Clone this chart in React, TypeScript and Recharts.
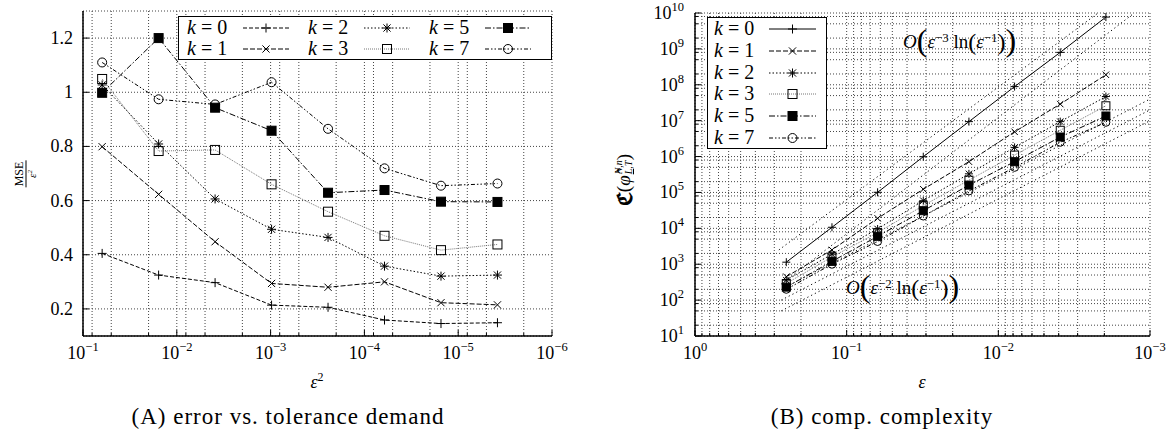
import React from "react";
import { LineChart, Line, XAxis, YAxis, CartesianGrid } from "recharts";

const FONT = "'Liberation Serif', 'DejaVu Serif', serif";

// x values: epsilon^2 for panel A, epsilon for panel B
const epsSq = [0.0625, 0.015625, 0.00390625, 0.0009765625, 0.000244140625, 0.00006103515625, 0.0000152587890625, 0.000003814697265625];
const eps = [0.25, 0.125, 0.0625, 0.03125, 0.015625, 0.0078125, 0.00390625, 0.001953125];

// panel A: MSE / eps^2
const mseK0 = [0.405, 0.325, 0.297, 0.214, 0.206, 0.159, 0.146, 0.149];
const mseK1 = [0.799, 0.623, 0.448, 0.294, 0.28, 0.3, 0.223, 0.215];
const mseK2 = [1.027, 0.809, 0.606, 0.494, 0.464, 0.358, 0.321, 0.325];
const mseK3 = [1.049, 0.783, 0.787, 0.66, 0.559, 0.47, 0.417, 0.438];
const mseK5 = [0.998, 1.2, 0.943, 0.858, 0.629, 0.639, 0.596, 0.595];
const mseK7 = [1.11, 0.974, 0.955, 1.037, 0.865, 0.719, 0.655, 0.663];

// panel B: computational cost
const costK0 = [1.14e3, 1.07e4, 1.01e5, 9.9e5, 9.4e6, 8.9e7, 8.0e8, 7.7e9];
const costK1 = [4.5e2, 2.5e3, 1.9e4, 1.23e5, 7.2e5, 4.9e6, 2.9e7, 1.9e8];
const costK2 = [3.6e2, 1.9e3, 9.6e3, 5.9e4, 3.3e5, 1.8e6, 9.4e6, 4.7e7];
const costK3 = [2.9e2, 1.6e3, 7.6e3, 4.3e4, 2.2e5, 1.1e6, 5.4e6, 2.6e7];
const costK5 = [2.3e2, 1.2e3, 6.0e3, 3.1e4, 1.6e5, 7.2e5, 3.5e6, 1.35e7];
const costK7 = [2.0e2, 1.0e3, 4.3e3, 2.2e4, 1.1e5, 5.0e5, 2.5e6, 9.0e6];

// dotted reference slopes in panel B, [eps, cost] end points
const refSteepHi = [[0.28, 2.5e3], [0.0022, 1e10]];
const refSteepLo = [[0.27, 2.8e2], [0.00127, 1e10]];
const refFlatHi = [[0.27, 2e2], [0.001, 4e7]];
const refFlatMid = [[0.27, 1e2], [0.001, 2e7]];
const refFlatLo = [[0.27, 5e1], [0.001, 1e7]];

// ticks
const decadesA = [1e-1, 1e-2, 1e-3, 1e-4, 1e-5, 1e-6];
const minorMultA = [2, 5, 8];
const yTicksA = [0.2, 0.4, 0.6, 0.8, 1, 1.2];
const decadesBx = [1, 1e-1, 1e-2, 1e-3];
const minorMultBx = [2, 3, 4, 5, 6, 7, 8, 9];
const decadesBy = [1e1, 1e2, 1e3, 1e4, 1e5, 1e6, 1e7, 1e8, 1e9, 1e10];
const minorMultBy = [2, 5, 8];

function logTicks(decades: number[], mults: number[]) {
  const out = [...decades];
  const lo = Math.min(...decades);
  const hi = Math.max(...decades);
  for (const d of decades) {
    if (d >= hi) continue;
    for (const m of mults) if (d * m < hi && d * m >= lo) out.push(d * m);
  }
  return out.sort((a, b) => a - b);
}

const ticksAx = logTicks(decadesA, minorMultA);
const ticksBx = logTicks(decadesBx, minorMultBx);
const ticksBy = logTicks(decadesBy, minorMultBy);

const toRows = (xs: number[], ys: number[]) => xs.map((x, i) => ({ x, y: ys[i] }));
const pairRows = (pts: number[][]) => pts.map(([x, y]) => ({ x, y }));

type Shape = "plus" | "cross" | "star" | "square" | "fsquare" | "circle";

const seriesA = [
  { id: "a0", k: "0", ys: mseK0, shape: "plus" as Shape, dash: "4 2", color: "#000" },
  { id: "a1", k: "1", ys: mseK1, shape: "cross" as Shape, dash: "5 2", color: "#000" },
  { id: "a2", k: "2", ys: mseK2, shape: "star" as Shape, dash: "1.5 2", color: "#000" },
  { id: "a3", k: "3", ys: mseK3, shape: "square" as Shape, dash: "1 1", color: "#777" },
  { id: "a5", k: "5", ys: mseK5, shape: "fsquare" as Shape, dash: "6 2 1.5 2", color: "#000" },
  { id: "a7", k: "7", ys: mseK7, shape: "circle" as Shape, dash: "4 2 1.5 2 1.5 2", color: "#000" },
];

const seriesB = [
  { id: "b0", k: "0", ys: costK0, shape: "plus" as Shape, dash: "", color: "#000" },
  { id: "b1", k: "1", ys: costK1, shape: "cross" as Shape, dash: "5 2", color: "#000" },
  { id: "b2", k: "2", ys: costK2, shape: "star" as Shape, dash: "1.5 2", color: "#000" },
  { id: "b3", k: "3", ys: costK3, shape: "square" as Shape, dash: "1 1", color: "#777" },
  { id: "b5", k: "5", ys: costK5, shape: "fsquare" as Shape, dash: "6 2 1.5 2", color: "#000" },
  { id: "b7", k: "7", ys: costK7, shape: "circle" as Shape, dash: "4 2 1.5 2 1.5 2", color: "#000" },
];

const refLines = [refSteepHi, refSteepLo, refFlatHi, refFlatMid, refFlatLo];

function Marker({ shape, cx, cy, s = 4.5 }: { shape: Shape; cx: number; cy: number; s?: number }) {
  const st = { stroke: "#000", strokeWidth: 1, fill: "none" };
  const r = s * 0.8;
  switch (shape) {
    case "plus":
      return <path d={`M${cx - s},${cy}H${cx + s}M${cx},${cy - s}V${cy + s}`} {...st} />;
    case "cross":
      return <path d={`M${cx - r},${cy - r}L${cx + r},${cy + r}M${cx - r},${cy + r}L${cx + r},${cy - r}`} {...st} />;
    case "star":
      return (
        <path
          d={`M${cx - s},${cy}H${cx + s}M${cx},${cy - s}V${cy + s}M${cx - r},${cy - r}L${cx + r},${cy + r}M${cx - r},${cy + r}L${cx + r},${cy - r}`}
          {...st}
        />
      );
    case "square":
      return <rect x={cx - s} y={cy - s} width={2 * s} height={2 * s} {...st} />;
    case "fsquare":
      return <rect x={cx - s} y={cy - s} width={2 * s} height={2 * s} stroke="#000" fill="#000" />;
    default:
      return <circle cx={cx} cy={cy} r={s} {...st} />;
  }
}

const isDecade = (v: number) => Math.abs(Math.log10(v) - Math.round(Math.log10(v))) < 1e-6;
const expOf = (v: number) => {
  const e = Math.round(Math.log10(v));
  return e < 0 ? `\u2212${-e}` : `${e}`;
};

type Side = "bottom" | "top" | "left" | "right";

function makeTick(side: Side, isMajor: (v: number) => boolean, label?: (v: number, x: number, y: number) => React.ReactNode) {
  return (props: any) => {
    const { x, y, payload } = props;
    const v = payload.value;
    const major = isMajor(v);
    const len = major ? 6 : 3;
    let mark;
    if (side === "bottom") mark = <line x1={x} x2={x} y1={y} y2={y - len} stroke="#000" />;
    else if (side === "top") mark = <line x1={x} x2={x} y1={y} y2={y + len} stroke="#000" />;
    else if (side === "left") mark = <line x1={x} x2={x + len} y1={y} y2={y} stroke="#000" />;
    else mark = <line x1={x} x2={x - len} y1={y} y2={y} stroke="#000" />;
    return (
      <g>
        {mark}
        {label && major ? label(v, x, y) : null}
      </g>
    );
  };
}

const powBottom = (v: number, x: number, y: number) => (
  <text x={x} y={y + 23} textAnchor="middle" fontSize={18} fontFamily={FONT} fill="#000">
    10<tspan dy={-8} fontSize={12.5}>{expOf(v)}</tspan>
  </text>
);
const powLeft = (v: number, x: number, y: number) => (
  <text x={x - 11} y={y + 6} textAnchor="end" fontSize={18} fontFamily={FONT} fill="#000">
    10<tspan dy={-8} fontSize={12.5}>{expOf(v)}</tspan>
  </text>
);
const decLeft = (v: number, x: number, y: number) => (
  <text x={x - 10} y={y + 6} textAnchor="end" fontSize={18} fontFamily={FONT} fill="#000">
    {v === 1 ? "1" : v.toFixed(1)}
  </text>
);

const frame = { stroke: "#000", strokeWidth: 1.5 };

function dotFor(id: string, shape: Shape, s: number) {
  return (p: any) => <Marker key={`${id}-${p.index}`} shape={shape} cx={p.cx} cy={p.cy} s={s} />;
}

function Sample({ shape, dash, color, w = 46 }: { shape: Shape; dash: string; color: string; w?: number }) {
  return (
    <svg width={w} height={12} style={{ display: "block" }}>
      <line x1={0} x2={w} y1={6} y2={6} stroke={color} strokeDasharray={dash || undefined} />
      <Marker shape={shape} cx={w / 2} cy={6} s={4.5} />
    </svg>
  );
}

function KLabel({ k }: { k: string }) {
  return (
    <span style={{ fontFamily: FONT, fontSize: 20, whiteSpace: "nowrap" }}>
      <i>k</i> = {k}
    </span>
  );
}

const Sup = ({ children }: { children: React.ReactNode }) => (
  <sup style={{ fontSize: "0.68em", verticalAlign: "0.5em", lineHeight: 0 }}>{children}</sup>
);

function OrderNote({ p, left, top }: { p: string; left: number; top: number }) {
  const big = { fontSize: 32, verticalAlign: "-3px", lineHeight: "10px" };
  const mid = { fontSize: 24, verticalAlign: "-2px", lineHeight: "10px" };
  return (
    <div style={{ position: "absolute", left, top, transform: "translateY(-50%)", fontFamily: FONT, fontSize: 19, whiteSpace: "nowrap", lineHeight: "30px" }}>
      <i>O</i>
      <span style={big}>(</span>
      <i>ε</i>
      <Sup>−{p}</Sup> ln<span style={mid}>(</span>
      <i>ε</i>
      <Sup>−1</Sup>
      <span style={mid}>)</span>
      <span style={big}>)</span>
    </div>
  );
}

export default function App() {
  const legendRowsA = [
    [seriesA[0], seriesA[1]],
    [seriesA[2], seriesA[3]],
    [seriesA[4], seriesA[5]],
  ];
  return (
    <div style={{ position: "absolute", left: 0, top: 0, width: 1175, height: 430, background: "#fff", fontFamily: FONT, color: "#000" }}>
      {/* Panel A */}
      <div style={{ position: "absolute", left: 0, top: 0 }}>
        <LineChart width={600} height={430} margin={{ top: 11, right: 48, bottom: 54, left: 0 }}>
          <CartesianGrid stroke="#444" strokeDasharray="1 2" />
          <XAxis
            type="number"
            dataKey="x"
            scale="log"
            domain={[1e-6, 1e-1]}
            reversed
            allowDataOverflow
            ticks={ticksAx}
            interval={0}
            height={40}
            tickSize={0}
            tickMargin={0}
            tickLine={false}
            axisLine={frame}
            tick={makeTick("bottom", isDecade, powBottom)}
          />
          <XAxis
            xAxisId="top"
            orientation="top"
            type="number"
            dataKey="x"
            scale="log"
            domain={[1e-6, 1e-1]}
            reversed
            allowDataOverflow
            ticks={ticksAx}
            interval={0}
            height={0}
            tickSize={0}
            tickMargin={0}
            tickLine={false}
            axisLine={frame}
            tick={makeTick("top", isDecade)}
          />
          <YAxis
            type="number"
            domain={[0.1, 1.3]}
            ticks={yTicksA}
            interval={0}
            width={83}
            tickSize={0}
            tickMargin={0}
            tickLine={false}
            axisLine={frame}
            allowDataOverflow
            tick={makeTick("left", () => true, decLeft)}
          />
          <YAxis
            yAxisId="right"
            orientation="right"
            type="number"
            domain={[0.1, 1.3]}
            ticks={yTicksA}
            interval={0}
            width={0}
            tickSize={0}
            tickMargin={0}
            tickLine={false}
            axisLine={frame}
            allowDataOverflow
            tick={makeTick("right", () => true)}
          />
          {seriesA.map((s) => (
            <Line
              key={s.id}
              data={toRows(epsSq, s.ys)}
              dataKey="y"
              type="linear"
              stroke={s.color}
              strokeWidth={1}
              strokeDasharray={s.dash || undefined}
              dot={dotFor(s.id, s.shape, 4.5)}
              activeDot={false}
              isAnimationActive={false}
            />
          ))}
        </LineChart>
      </div>

      {/* Panel B */}
      <div style={{ position: "absolute", left: 590, top: 0 }}>
        <LineChart width={585} height={430} margin={{ top: 13, right: 25, bottom: 54, left: 0 }}>
          <CartesianGrid stroke="#444" strokeDasharray="1 2" />
          <XAxis
            type="number"
            dataKey="x"
            scale="log"
            domain={[1e-3, 1]}
            reversed
            allowDataOverflow
            ticks={ticksBx}
            interval={0}
            height={40}
            tickSize={0}
            tickMargin={0}
            tickLine={false}
            axisLine={frame}
            tick={makeTick("bottom", isDecade, powBottom)}
          />
          <XAxis
            xAxisId="top"
            orientation="top"
            type="number"
            dataKey="x"
            scale="log"
            domain={[1e-3, 1]}
            reversed
            allowDataOverflow
            ticks={ticksBx}
            interval={0}
            height={0}
            tickSize={0}
            tickMargin={0}
            tickLine={false}
            axisLine={frame}
            tick={makeTick("top", isDecade)}
          />
          <YAxis
            type="number"
            scale="log"
            domain={[1e1, 1e10]}
            ticks={ticksBy}
            interval={0}
            width={105}
            tickSize={0}
            tickMargin={0}
            tickLine={false}
            axisLine={frame}
            allowDataOverflow
            tick={makeTick("left", isDecade, powLeft)}
          />
          <YAxis
            yAxisId="right"
            orientation="right"
            type="number"
            scale="log"
            domain={[1e1, 1e10]}
            ticks={ticksBy}
            interval={0}
            width={0}
            tickSize={0}
            tickMargin={0}
            tickLine={false}
            axisLine={frame}
            allowDataOverflow
            tick={makeTick("right", isDecade)}
          />
          {refLines.map((r, i) => (
            <Line
              key={`ref${i}`}
              data={pairRows(r)}
              dataKey="y"
              type="linear"
              stroke="#000"
              strokeWidth={1}
              strokeDasharray="1.2 3"
              dot={false}
              activeDot={false}
              isAnimationActive={false}
            />
          ))}
          {seriesB.map((s) => (
            <Line
              key={s.id}
              data={toRows(eps, s.ys)}
              dataKey="y"
              type="linear"
              stroke={s.color}
              strokeWidth={1}
              strokeDasharray={s.dash || undefined}
              dot={dotFor(s.id, s.shape, 4)}
              activeDot={false}
              isAnimationActive={false}
            />
          ))}
        </LineChart>
      </div>

      {/* Legend A */}
      <div style={{ position: "absolute", left: 178, top: 16, width: 374, height: 44, boxSizing: "border-box", border: "1.5px solid #000", background: "#fff" }}>
        {legendRowsA.map((col, ci) =>
          col.map((s, ri) => (
            <React.Fragment key={s.id}>
              <div style={{ position: "absolute", left: 8 + ci * 121, top: 0 + ri * 21, height: 21, lineHeight: "21px" }}>
                <KLabel k={s.k} />
              </div>
              <div style={{ position: "absolute", left: 64 + ci * 121, top: 5 + ri * 21 }}>
                <Sample shape={s.shape} dash={s.dash} color={s.color} />
              </div>
            </React.Fragment>
          ))
        )}
      </div>

      {/* Legend B */}
      <div style={{ position: "absolute", left: 707, top: 17, width: 120, height: 132, boxSizing: "border-box", border: "1.5px solid #000", background: "#fff" }}>
        {seriesB.map((s, i) => (
          <React.Fragment key={s.id}>
            <div style={{ position: "absolute", left: 6, top: 0 + i * 21.8, height: 21, lineHeight: "21px" }}>
              <KLabel k={s.k} />
            </div>
            <div style={{ position: "absolute", left: 61, top: 5 + i * 21.8 }}>
              <Sample shape={s.shape} dash={s.dash} color={s.color} w={47} />
            </div>
          </React.Fragment>
        ))}
      </div>

      {/* order annotations */}
      <OrderNote p="3" left={903} top={42} />
      <OrderNote p="2" left={846} top={288} />

      {/* y labels */}
      <div style={{ position: "absolute", left: 25, top: 174, transform: "translate(-50%, -50%) rotate(-90deg)", display: "inline-flex", flexDirection: "column", alignItems: "center" }}>
        <span style={{ fontSize: 12, lineHeight: "12px", padding: "0 1px 1px", borderBottom: "1px solid #000" }}>MSE</span>
        <span style={{ fontSize: 11, lineHeight: "11px", fontStyle: "italic" }}>
          ε<sup style={{ fontSize: 7, verticalAlign: "4px", lineHeight: 0 }}>2</sup>
        </span>
      </div>
      <div style={{ position: "absolute", left: 624, top: 180, transform: "translate(-50%, -50%) rotate(-90deg)", whiteSpace: "nowrap", fontSize: 19, display: "flex", alignItems: "center" }}>
        <span style={{ fontWeight: 700, fontSize: 21 }}>ℭ</span>
        <span>(</span>
        <i>φ̂</i>
        <span style={{ display: "inline-flex", flexDirection: "column", fontSize: 10, lineHeight: "10px", fontStyle: "italic", marginLeft: 1 }}>
          <span>N,n</span>
          <span>
            <span style={{ textDecoration: "underline" }}>L</span>,T
          </span>
        </span>
        <span>)</span>
      </div>

      {/* x labels */}
      <div style={{ position: "absolute", left: 317, top: 382, transform: "translate(-50%, -50%)", fontSize: 18, fontStyle: "italic" }}>
        ε<sup style={{ fontSize: 12, verticalAlign: "7px", lineHeight: 0, fontStyle: "normal" }}>2</sup>
      </div>
      <div style={{ position: "absolute", left: 922, top: 382, transform: "translate(-50%, -50%)", fontSize: 18, fontStyle: "italic" }}>ε</div>

      {/* captions */}
      <div style={{ position: "absolute", left: 288, top: 417, transform: "translate(-50%, -50%)", fontSize: 23, letterSpacing: 1, whiteSpace: "nowrap" }}>
        (A) error vs. tolerance demand
      </div>
      <div style={{ position: "absolute", left: 882, top: 417, transform: "translate(-50%, -50%)", fontSize: 23, letterSpacing: 1, whiteSpace: "nowrap" }}>
        (B) comp. complexity
      </div>
    </div>
  );
}
